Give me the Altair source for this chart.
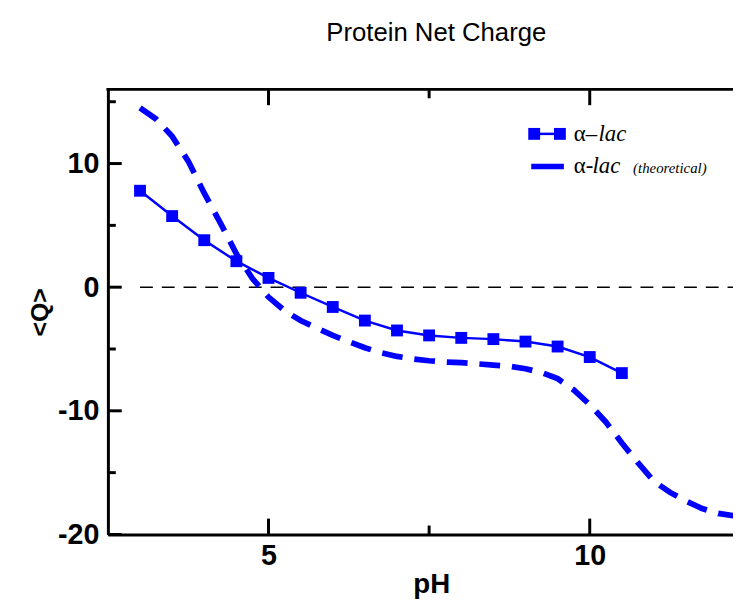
import altair as alt
import pandas as pd

# ---------------- data ----------------
ph_exp = [3.0, 3.5, 4.0, 4.5, 5.0, 5.5, 6.0, 6.5, 7.0, 7.5, 8.0, 8.5, 9.0, 9.5, 10.0, 10.5]
q_exp = [7.8, 5.75, 3.8, 2.1, 0.75, -0.45, -1.6, -2.7, -3.5, -3.9, -4.1, -4.2, -4.4, -4.8, -5.65, -6.95]

ph_theo = [3.0, 3.25, 3.5, 3.75, 4.0, 4.25, 4.5, 4.75, 5.0, 5.25, 5.5, 5.75, 6.0, 6.25,
           6.5, 6.75, 7.0, 7.25, 7.5, 7.75, 8.0, 8.25, 8.5, 8.75, 9.0, 9.25, 9.5, 9.75,
           10.0, 10.25, 10.5, 10.75, 11.0, 11.25, 11.5, 11.75, 12.0, 12.25]
q_theo = [14.5, 13.6, 12.2, 10.2, 7.6, 5.2, 2.7, 0.7, -0.8, -1.9, -2.7, -3.3, -3.9, -4.4,
          -4.9, -5.3, -5.6, -5.8, -5.95, -6.05, -6.1, -6.2, -6.3, -6.4, -6.6, -6.9, -7.4, -8.3,
          -9.5, -10.9, -12.6, -14.2, -15.7, -16.6, -17.3, -17.9, -18.3, -18.5]

x_major = [5, 10]
x_minor = [7.5]
y_major = [-20, -10, 0, 10]
y_minor = [-15, -5, 5, 15]

zero_line = {"ph": [3.0], "ph2": [12.5], "q": [0]}

title_text = "Protein Net Charge"
x_title = "pH"
y_title = "<Q>"

# ---------------- layout ----------------
W, H = 632, 450
BLUE = "#0000ff"
SANS = "Liberation Sans"
SERIF = "Liberation Serif"

xscale = alt.Scale(domain=[2.5, 12.23], nice=False, zero=False)
yscale = alt.Scale(domain=[-20, 16], nice=False, zero=False)

x_axis = alt.Axis(
    values=x_major, labelExpr="'' + datum.value", ticks=False, tickSize=0, grid=False,
    domainColor="black", domainWidth=3, labelFont=SANS, labelFontSize=29,
    labelFontWeight="bold", labelColor="black", labelPadding=7, labelFlush=False,
    title=x_title, titleFont=SANS, titleFontSize=28, titleFontWeight="bold",
    titleColor="black", titleX=327, titleY=51, titleBaseline="middle", titleAlign="center",
)
y_axis = alt.Axis(
    values=y_major, labelExpr="'' + datum.value", ticks=False, tickSize=0, grid=False,
    domainColor="black", domainWidth=3, labelFont=SANS, labelFontSize=29,
    labelFontWeight="bold", labelColor="black", labelPadding=9, labelFlush=False,
    labelBaseline="middle", labelOverlap=False,
    title=y_title, titleFont=SANS, titleFontSize=25, titleFontWeight="bold",
    titleColor="black", titleAngle=270, titleX=-69, titleY=225,
    titleAlign="center", titleBaseline="middle",
)

X = alt.X("ph:Q", scale=xscale, axis=x_axis)
Y = alt.Y("q:Q", scale=yscale, axis=y_axis)

df_exp = pd.DataFrame({"ph": ph_exp, "q": q_exp})
df_theo = pd.DataFrame({"ph": ph_theo, "q": q_theo})
df_zero = pd.DataFrame(zero_line)

zero = alt.Chart(df_zero).mark_rule(
    color="black", strokeWidth=1.6, strokeDash=[13, 9], clip=True
).encode(x=X, x2="ph2:Q", y=Y)

theo = alt.Chart(df_theo).mark_line(
    color=BLUE, strokeWidth=5.8, strokeDash=[21, 12], clip=True
).encode(x=X, y=Y, order="ph:Q")

exp_line = alt.Chart(df_exp).mark_line(color=BLUE, strokeWidth=2.5).encode(x=X, y=Y, order="ph:Q")
exp_pts = alt.Chart(df_exp).mark_square(color=BLUE, size=144, opacity=1).encode(x=X, y=Y)

# inward ticks
xmaj_b = alt.Chart(pd.DataFrame({"ph": x_major})).mark_rule(color="black", strokeWidth=3).encode(
    x=X, y=alt.value(H), y2=alt.value(H - 16))
xmin_b = alt.Chart(pd.DataFrame({"ph": x_minor})).mark_rule(color="black", strokeWidth=3).encode(
    x=X, y=alt.value(H), y2=alt.value(H - 9))
xmaj_t = alt.Chart(pd.DataFrame({"ph": x_major})).mark_rule(color="black", strokeWidth=3).encode(
    x=X, y=alt.value(0), y2=alt.value(16))
xmin_t = alt.Chart(pd.DataFrame({"ph": x_minor})).mark_rule(color="black", strokeWidth=3).encode(
    x=X, y=alt.value(0), y2=alt.value(9))
ymaj = alt.Chart(pd.DataFrame({"q": y_major})).mark_rule(color="black", strokeWidth=3).encode(
    y=Y, x=alt.value(0), x2=alt.value(14))
ymin = alt.Chart(pd.DataFrame({"q": y_minor})).mark_rule(color="black", strokeWidth=3).encode(
    y=Y, x=alt.value(0), x2=alt.value(8))

one = pd.DataFrame({"k": [0]})
top_frame = alt.Chart(one).mark_rule(color="black", strokeWidth=3).encode(
    x=alt.value(-1.5), x2=alt.value(W), y=alt.value(0))

# legend (drawn inside the plot)
leg_l1 = alt.Chart(one).mark_rule(color=BLUE, strokeWidth=2.5).encode(
    x=alt.value(431), x2=alt.value(457), y=alt.value(45))
leg_s1 = alt.Chart(one).mark_square(color=BLUE, size=144, opacity=1).encode(
    x=alt.value(431), y=alt.value(45))
leg_s2 = alt.Chart(one).mark_square(color=BLUE, size=144, opacity=1).encode(
    x=alt.value(457), y=alt.value(45))
leg_l2 = alt.Chart(one).mark_rule(color=BLUE, strokeWidth=5.5).encode(
    x=alt.value(428), x2=alt.value(461), y=alt.value(78))

def txt(s, x, y, size, italic):
    return alt.Chart(one).mark_text(
        text=s, align="left", baseline="middle", font=SERIF, fontSize=size,
        fontStyle="italic" if italic else "normal", color="black"
    ).encode(x=alt.value(x), y=alt.value(y))

leg_t1a = txt("α–", 471, 45, 23, False)
leg_t1b = txt("lac", 496, 45, 23, True)
leg_t2a = txt("α-", 471, 78, 23, False)
leg_t2b = txt("lac", 490, 78, 23, True)
leg_t2c = txt("(theoretical)", 531, 80, 15, True)

chart = alt.layer(
    zero, theo, exp_line, exp_pts,
    xmaj_b, xmin_b, xmaj_t, xmin_t, ymaj, ymin, top_frame,
    leg_l1, leg_s1, leg_s2, leg_l2, leg_t1a, leg_t1b, leg_t2a, leg_t2b, leg_t2c,
).properties(
    width=W, height=H,
    title=alt.TitleParams(
        title_text, font=SANS, fontSize=26, fontWeight="normal", color="black",
        anchor="middle", baseline="alphabetic", offset=21, dx=16,
    ),
    autosize=alt.AutoSizeParams(type="none"),
    padding={"left": 101, "top": 79, "right": 0, "bottom": 63},
).configure_view(stroke=None).configure(background="white")

chart.save("out.html", embed_options={"renderer": "svg", "actions": False})
